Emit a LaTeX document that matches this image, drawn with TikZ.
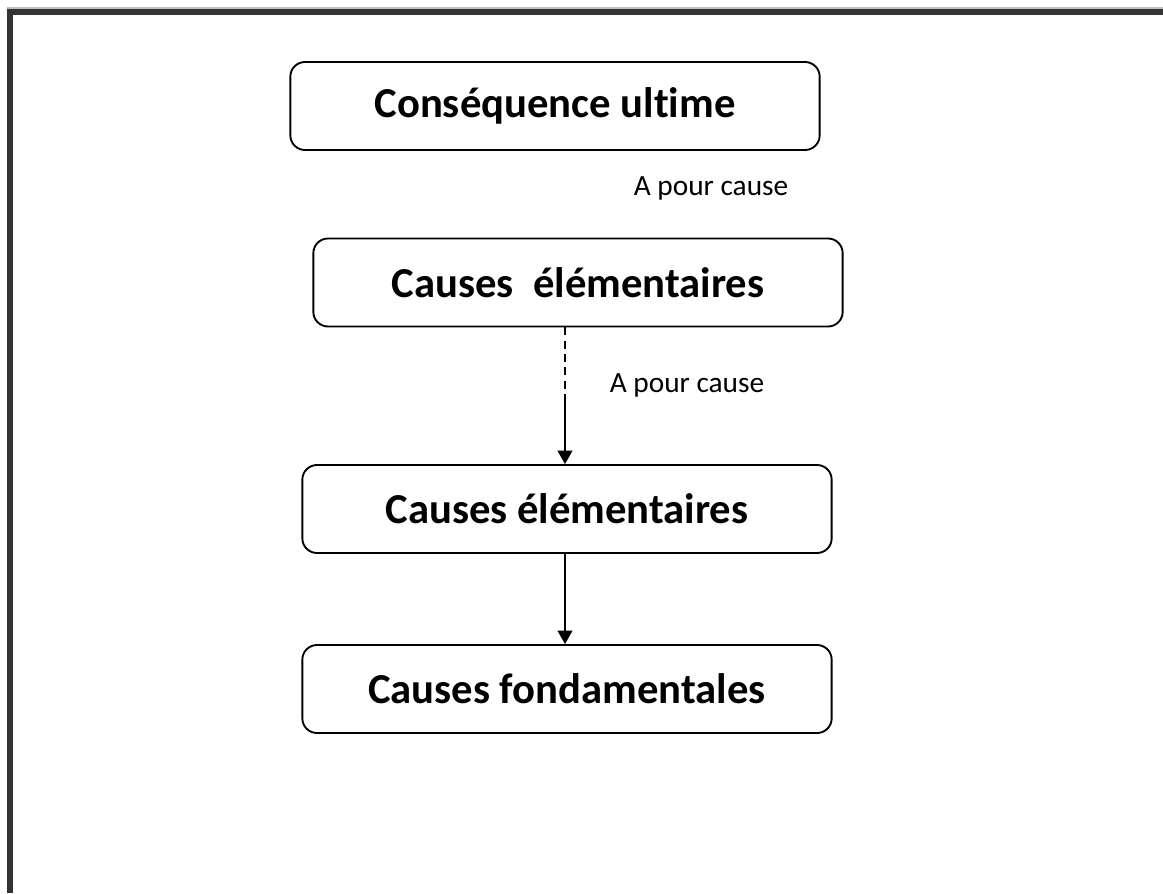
\documentclass[tikz,border=0pt]{standalone}
\usepackage{fontspec}
\setmainfont{Carlito}[Ligatures=NoCommon]
\usepackage{xcolor}
\usepackage{tikz}
\usetikzlibrary{positioning,arrows.meta}
\definecolor{framegray}{HTML}{333333}

\begin{document}
\begin{tikzpicture}[
            x=0.75pt, y=-0.75pt,
            causebox/.style={rectangle, rounded corners=11pt, draw, line width=1.4pt,
                minimum width=397pt, minimum height=66pt,
                font=\fontsize{32}{38}\selectfont\bfseries},
            linklabel/.style={font=\fontsize{22}{26}\selectfont},
            link/.style={line width=1.1pt, -{Triangle[width=11pt,length=10pt]}}
        ]
            \useasboundingbox (0,0) rectangle (1163,893);
            % Frame (top and left only)
            \draw[framegray, line width=4.6pt] (10,893) -- (10,11.5) -- (1163,11.5);
            \draw[black!25, line width=0.8pt] (7,8) -- (1163,8);
            \begin{scope}[every node/.style={causebox}]
                % Boxes
                \node (ultime) at (555,106) {Conséquence ultime};
                \node (elem1) at (578,282.5) {Causes~~élémentaires};
                \node (elem2) at (567,509) {Causes élémentaires};
                \node (fond) at (567,689) {Causes fondamentales};
            \end{scope}
            % Labels
            \node[linklabel] (label1) at (711,188) {A pour cause};
            \node[linklabel] (label2) at (687,385) {A pour cause};
            % Links
            \coordinate (split) at (565,395);
            \draw[line width=1.1pt, dash pattern=on 6pt off 4pt] (elem1.south -| split) -- (split);
            \draw[link] (split) -- (elem2.north -| split);
            \draw[link] (elem2.south -| split) -- (fond.north -| split);
        \end{tikzpicture}
\end{document}
